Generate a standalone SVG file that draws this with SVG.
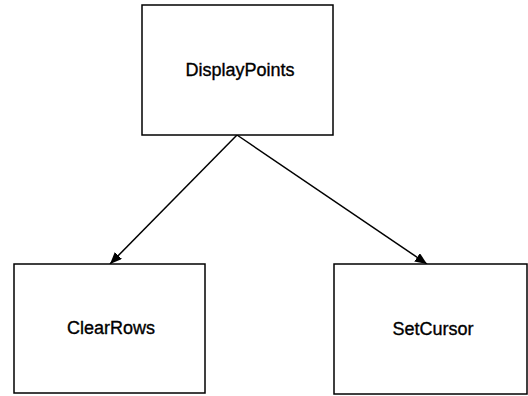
<svg xmlns="http://www.w3.org/2000/svg" width="528" height="396" viewBox="0 0 528 396">
<style>
.box{fill:#fff;stroke:#000;stroke-width:1.5}
.lbl{font-family:"Liberation Sans",Arial,sans-serif;font-size:18px;fill:#000;stroke:#000;stroke-width:0.35;text-anchor:middle}
.edge{stroke:#000;stroke-width:1.5;fill:none}
</style>
<defs>
<marker id="arr" viewBox="0 0 12 10" refX="12" refY="5" markerWidth="12" markerHeight="10" markerUnits="userSpaceOnUse" orient="auto">
<path d="M0,0 L12,5 L0,10 z" fill="#000"/>
</marker>
</defs>
<rect width="528" height="396" fill="#fff"/>
<g id="connectors">
<line class="edge" x1="237" y1="135" x2="110" y2="264" marker-end="url(#arr)"/>
<line class="edge" x1="237" y1="135" x2="427" y2="264" marker-end="url(#arr)"/>
</g>
<g id="DisplayPoints">
<rect class="box" x="142" y="5" width="191" height="130"/>
<text class="lbl" x="240" y="76">DisplayPoints</text>
</g>
<g id="ClearRows">
<rect class="box" x="14" y="264" width="191" height="129"/>
<text class="lbl" x="111" y="334">ClearRows</text>
</g>
<g id="SetCursor">
<rect class="box" x="334" y="264" width="193" height="130"/>
<text class="lbl" x="433" y="335">SetCursor</text>
</g>
</svg>
